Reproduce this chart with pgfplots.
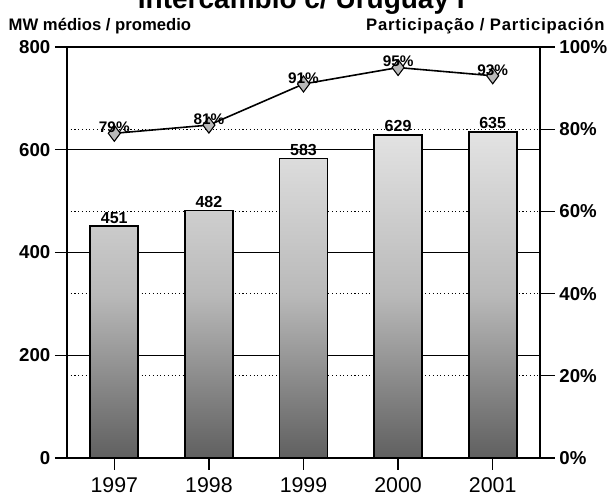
\documentclass[border=0pt]{standalone}
\usepackage{pgfplots}
\pgfplotsset{compat=1.18}
\usepackage{fontspec}
\setmainfont{Liberation Sans}
\begin{document}
\begin{tikzpicture}[x=1pt,y=1pt]
\useasboundingbox (0,0) rectangle (458.25,374.25);
\clip (0,0) rectangle (458.25,374.25);
% title (cut at the top as in the scan)
\node[anchor=base, font=\fontsize{21}{21}\selectfont\bfseries] at (226,367.5) {Intercâmbio c/ Uruguay I};
\node[anchor=base west, font=\fontsize{12.5}{12.5}\selectfont\bfseries] at (3,351.5) {MW médios / promedio};
\node[anchor=base east, font=\fontsize{12.5}{12.5}\selectfont\bfseries\addfontfeature{LetterSpace=5}] at (457,351.5) {Participação / Participación};
\begin{axis}[
  at={(50.25pt,30.75pt)}, anchor=south west,
  width=354.75pt, height=308.25pt, scale only axis,
  xmin=-0.5, xmax=4.5, ymin=0, ymax=800,
  axis x line*=bottom, axis y line*=left,
  axis line style={black, line width=1pt},
  xtick={0,1,2,3,4}, xticklabels={1997,1998,1999,2000,2001},
  ytick={0,200,400,600,800},
  extra y ticks={160,320,480,640},
  extra y tick labels={},
  extra y tick style={grid=major, major grid style={black, dotted, line width=0.9pt}, major tick length=0pt},
  ymajorgrids=true,
  major grid style={black, line width=0.8pt},
  tick align=outside,
  major tick length=9pt,
  tick style={black, line width=1pt},
  /pgf/number format/assume math mode=true,
  y tick label style={font=\fontsize{14}{14}\selectfont\bfseries},
  x tick label style={font=\fontsize{16}{16}\selectfont, yshift=-2pt},
  nodes near coords,
  every node near coord/.append style={font=\fontsize{12}{12}\selectfont\bfseries, inner sep=1.5pt},
]
\addplot[ybar, bar width=36pt, bar shift=0pt, draw=black, line width=1.3pt,
  top color=gray!22, bottom color=gray!75!black, middle color=gray!55]
  coordinates {(0,451) (1,482) (2,583) (3,629) (4,635)};
\end{axis}
\begin{axis}[
  at={(50.25pt,30.75pt)}, anchor=south west,
  width=354.75pt, height=308.25pt, scale only axis,
  xmin=-0.5, xmax=4.5, ymin=0, ymax=100,
  axis x line=none, axis y line*=right,
  axis line style={black, line width=1pt},
  ytick={0,20,40,60,80,100},
  yticklabel={\pgfmathprintnumber{\tick}\%},
  tick align=outside,
  major tick length=11pt,
  tick style={black, line width=1pt},
  /pgf/number format/assume math mode=true,
  y tick label style={font=\fontsize{14}{14}\selectfont\bfseries},
  nodes near coords={\pgfmathprintnumber{\pgfplotspointmeta}\%},
  every node near coord/.append style={font=\fontsize{11.5}{11.5}\selectfont\bfseries, inner sep=0pt, yshift=0pt},
]
\addplot[black, line width=1.2pt, mark=diamond*, mark size=6pt,
  mark options={fill=gray!55, draw=black, line width=0.8pt}]
  coordinates {(0,79) (1,81) (2,91) (3,95) (4,93)};
\end{axis}
\end{tikzpicture}
\end{document}
